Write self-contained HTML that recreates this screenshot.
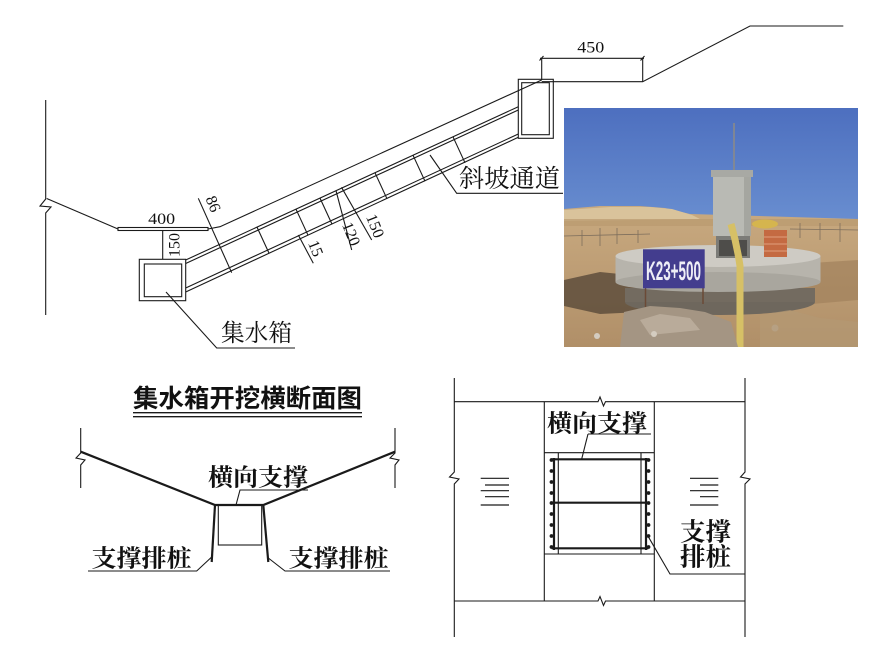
<!DOCTYPE html>
<html><head><meta charset="utf-8"><style>
html,body{margin:0;padding:0;background:#fff;}
svg{display:block;}
.n{font-family:"Liberation Serif","Noto Serif CJK SC",serif;font-size:16px;fill:#111;}
.c{font-family:"Liberation Serif","Noto Serif CJK SC",serif;fill:#111;}
.h{font-family:"Liberation Sans","Noto Sans CJK SC",sans-serif;fill:#111;}
</style></head><body>
<svg width="886" height="647" viewBox="0 0 886 647" xmlns="http://www.w3.org/2000/svg">
<defs>
<clipPath id="pc"><rect x="564" y="108" width="294" height="239"/></clipPath>
<linearGradient id="sky" x1="0" y1="0" x2="0" y2="1">
<stop offset="0" stop-color="#4d6fbf"/><stop offset="0.6" stop-color="#7096d4"/><stop offset="1" stop-color="#9dbbe6"/>
</linearGradient>
<linearGradient id="gr" x1="0" y1="0" x2="0" y2="1">
<stop offset="0" stop-color="#c9aa80"/><stop offset="1" stop-color="#b08f68"/>
</linearGradient>
</defs>

<g fill="none" stroke="#1a1a1a" stroke-width="1.1">
<polyline points="45.7,100 45.7,199 40,206 51,207 45.7,213 45.7,315"/>
<line x1="46.7" y1="198.5" x2="118" y2="229"/>
<rect x="118" y="227.5" width="90" height="3"/>
<polyline points="208,229 220,226.7 541.7,80"/>
<line x1="162.7" y1="231" x2="162.7" y2="259.3"/>
<rect x="139.3" y="259.3" width="46.4" height="41.4"/>
<rect x="144.3" y="264" width="37.4" height="32.7"/>
<line x1="185.7" y1="260" x2="518.3" y2="106.7"/>
<line x1="185.7" y1="263.5" x2="518.3" y2="110"/>
<line x1="185.7" y1="288" x2="518.3" y2="134"/>
<line x1="185.7" y1="292" x2="518.3" y2="137.3"/>
<line x1="257" y1="227.1" x2="269" y2="253.1"/>
<line x1="296" y1="209.2" x2="308" y2="235.2"/>
<line x1="320" y1="198.1" x2="332" y2="224.1"/>
<line x1="375" y1="172.8" x2="387" y2="198.8"/>
<line x1="413" y1="155.2" x2="425" y2="181.2"/>
<line x1="453" y1="136.8" x2="465" y2="162.8"/>
<line x1="198.3" y1="198.3" x2="231.7" y2="272.7"/>
<line x1="298.3" y1="235" x2="313.3" y2="263.3"/>
<line x1="336" y1="190.7" x2="351.7" y2="250"/>
<line x1="341.5" y1="187.3" x2="371.7" y2="240"/>
<rect x="518.3" y="79.3" width="35" height="59"/>
<rect x="521.7" y="82.7" width="27.6" height="52"/>
<line x1="541.7" y1="58.3" x2="541.7" y2="80"/>
<line x1="642.7" y1="58.3" x2="642.7" y2="81.7"/>
<line x1="540" y1="58.3" x2="644" y2="58.3"/>
<line x1="539.5" y1="60.5" x2="543.5" y2="56"/>
<line x1="640.5" y1="60.5" x2="644.5" y2="56"/>
<polyline points="541.7,81.7 642.7,81.7 750,26 843.3,26"/>
<polyline points="166,292 216.7,348 295,348"/>
<polyline points="430,155 456.7,193.3 563,193.3"/>
</g>

<text class="n" x="161.7" y="224" text-anchor="middle" textLength="27" lengthAdjust="spacingAndGlyphs">400</text>
<text class="n" x="590.8" y="52.5" text-anchor="middle" textLength="27" lengthAdjust="spacingAndGlyphs">450</text>
<text class="n" transform="translate(174.5,245) rotate(-90)" text-anchor="middle" dy="5">150</text>
<text class="n" transform="translate(213,204) rotate(68)" text-anchor="middle" dy="5">86</text>
<text class="n" transform="translate(315.5,248.5) rotate(68)" text-anchor="middle" dy="5">15</text>
<text class="n" transform="translate(351,234) rotate(68)" text-anchor="middle" dy="5">120</text>
<text class="n" transform="translate(375,226) rotate(68)" text-anchor="middle" dy="5">150</text>
<text class="c" x="221" y="341" font-size="24" textLength="71" lengthAdjust="spacingAndGlyphs">集水箱</text>
<text class="c" x="459" y="187" font-size="25" textLength="101" lengthAdjust="spacingAndGlyphs">斜坡通道</text>

<!-- photo -->
<g clip-path="url(#pc)">
<rect x="564" y="108" width="294" height="239" fill="url(#sky)"/>
<polygon points="564,209 600,206 640,206 665,208 690,214 858,219 858,347 564,347" fill="url(#gr)"/>
<polygon points="564,210 610,207 650,207 672,209 692,215 700,219 564,221" fill="#d9c39b"/>
<rect x="564" y="219" width="294" height="7" fill="#b99a6f" opacity="0.7"/>
<g stroke="#7d6e5c" stroke-width="0.8">
<line x1="582" y1="230" x2="582" y2="246"/><line x1="600" y1="228" x2="600" y2="246"/><line x1="617" y1="228" x2="617" y2="244"/><line x1="638" y1="230" x2="638" y2="243"/>
<line x1="800" y1="223" x2="800" y2="238"/><line x1="820" y1="223" x2="820" y2="240"/><line x1="840" y1="223" x2="840" y2="242"/>
<line x1="564" y1="236" x2="650" y2="234"/><line x1="790" y1="229" x2="858" y2="230"/>
</g>
<polygon points="564,280 600,272 640,276 660,300 640,312 600,314 564,306" fill="#5e4d3c" opacity="0.85"/>
<polygon points="780,265 858,260 858,300 800,305" fill="#9c7d58" opacity="0.6"/>
<ellipse cx="720" cy="302" rx="95" ry="13" fill="#6e675d"/>
<rect x="625" y="288" width="190" height="14" fill="#736b60"/>
<rect x="615.5" y="256" width="205" height="26" fill="#b7b4ac"/>
<ellipse cx="718" cy="282" rx="102.5" ry="10" fill="#a9a69e"/>
<ellipse cx="718" cy="256" rx="102.5" ry="11" fill="#cecbc4"/>
<line x1="734" y1="123" x2="734" y2="171" stroke="#8a8a8a" stroke-width="1.6"/>
<rect x="716" y="235" width="34" height="23" fill="#7c7c78"/>
<rect x="719" y="240" width="28" height="16" fill="#4e4d4a"/>
<rect x="713" y="176" width="38" height="60" fill="#b9bab4"/>
<rect x="744" y="176" width="7" height="60" fill="#a5a6a0"/>
<rect x="711" y="170" width="42" height="7" fill="#a8a9a4"/>
<ellipse cx="765" cy="224" rx="13" ry="4.5" fill="#d5b54e"/>
<rect x="764" y="230" width="23" height="27" fill="#c46a42"/>
<g stroke="#e8b090" stroke-width="0.7"><line x1="764" y1="237" x2="787" y2="237"/><line x1="764" y1="244" x2="787" y2="244"/><line x1="764" y1="251" x2="787" y2="251"/></g>
<line x1="645.5" y1="288" x2="645.5" y2="310" stroke="#6b4a36" stroke-width="1.5"/>
<line x1="703" y1="288" x2="703" y2="304" stroke="#6b4a36" stroke-width="1.5"/>
<rect x="643" y="249.3" width="61.7" height="39" fill="#433d8e"/>
<text x="673.5" y="280" text-anchor="middle" font-family="'Liberation Sans Narrow','Liberation Sans',sans-serif" font-weight="bold" font-size="27" fill="#eeeef6" textLength="55" lengthAdjust="spacingAndGlyphs">K23+500</text>
<path d="M731,224 Q737,245 740,266 L740,347" fill="none" stroke="#d6c066" stroke-width="7"/>
<polygon points="624,312 650,306 680,308 705,312 731,322 738,347 620,347" fill="#a49583"/>
<polygon points="640,320 660,314 690,318 700,330 650,335" fill="#c2b5a4" opacity="0.7"/>
<circle cx="597" cy="336" r="3" fill="#d4ccc0"/><circle cx="654" cy="334" r="3" fill="#d4ccc0"/><circle cx="775" cy="328" r="3.5" fill="#bbb3a8"/>
<polygon points="760,315 790,310 820,318 858,322 858,347 760,347" fill="#b39873" opacity="0.7"/>
</g>

<!-- cross section -->
<text class="h" x="133" y="407" font-size="25" font-weight="bold" textLength="229" lengthAdjust="spacingAndGlyphs">集水箱开挖横断面图</text>
<g fill="none" stroke="#1a1a1a">
<line x1="133" y1="412.7" x2="362" y2="412.7" stroke-width="1.3"/>
<line x1="133" y1="416.7" x2="362" y2="416.7" stroke-width="1.3"/>
<polyline points="80.7,428 80.7,453 76,458 85,460 80.7,465 80.7,488" stroke-width="1.1"/>
<polyline points="395,428 395,453 390,458 399,460 395,465 395,488" stroke-width="1.1"/>
<polyline points="80.7,451.7 215,505 263.3,505 395,451.7" stroke-width="2.2"/>
<rect x="218.3" y="505" width="43.4" height="40" stroke-width="1.1"/>
<line x1="215" y1="505" x2="211.7" y2="562" stroke-width="2.2"/>
<line x1="263.3" y1="505" x2="268.3" y2="562" stroke-width="2.2"/>
<polyline points="236,505 240,490 308,490" stroke-width="1.1"/>
<polyline points="88,571 196.7,571 211.7,557" stroke-width="1.1"/>
<polyline points="268.3,558 285,571 390,571" stroke-width="1.1"/>
</g>
<text class="c" x="208" y="485.5" font-size="24" font-weight="bold" textLength="100" lengthAdjust="spacingAndGlyphs">横向支撑</text>
<text class="c" x="91.5" y="566.5" font-size="24" font-weight="bold" textLength="100" lengthAdjust="spacingAndGlyphs">支撑排桩</text>
<text class="c" x="288.5" y="566.5" font-size="24" font-weight="bold" textLength="100" lengthAdjust="spacingAndGlyphs">支撑排桩</text>

<!-- plan view -->
<g fill="none" stroke="#1a1a1a" stroke-width="1.1">
<polyline points="454.3,378 454.3,472 449.5,477 459,479 454.3,484 454.3,637"/>
<polyline points="745,378 745,472 740.5,477 750,479 745,484 745,637"/>
<polyline points="454.3,401.7 598,401.7 600,397 603.5,406 605.5,401.7 745,401.7"/>
<polyline points="454.3,601 598,601 600,596.5 603.5,605.5 605.5,601 745,601"/>
<line x1="544.3" y1="401.7" x2="544.3" y2="601"/>
<line x1="654.3" y1="401.7" x2="654.3" y2="601"/>
<line x1="544.3" y1="452.7" x2="654.3" y2="452.7"/>
<line x1="544.3" y1="554" x2="654.3" y2="554"/>
<line x1="558.3" y1="452.7" x2="558.3" y2="554"/>
<line x1="641" y1="452.7" x2="641" y2="554"/>
<polyline points="588,434 651,434"/>
<polyline points="588,434 581.7,459"/>
<polyline points="648.3,536.7 670,574 745,574"/>
</g>
<g stroke="#1a1a1a" stroke-width="2.2" fill="none">
<line x1="551.7" y1="459.3" x2="648.3" y2="459.3"/>
<line x1="551.7" y1="502.7" x2="648.3" y2="502.7"/>
<line x1="551.7" y1="548.3" x2="648.3" y2="548.3"/>
<line x1="554" y1="458" x2="554" y2="550"/>
<line x1="646" y1="458" x2="646" y2="550"/>
</g>
<g fill="#1a1a1a">
<circle cx="551.5" cy="460" r="1.9"/><circle cx="551.5" cy="471" r="1.9"/><circle cx="551.5" cy="482" r="1.9"/><circle cx="551.5" cy="493" r="1.9"/><circle cx="551.5" cy="503" r="1.9"/><circle cx="551.5" cy="514" r="1.9"/><circle cx="551.5" cy="525" r="1.9"/><circle cx="551.5" cy="536" r="1.9"/><circle cx="551.5" cy="547" r="1.9"/>
<circle cx="648.5" cy="460" r="1.9"/><circle cx="648.5" cy="471" r="1.9"/><circle cx="648.5" cy="482" r="1.9"/><circle cx="648.5" cy="493" r="1.9"/><circle cx="648.5" cy="503" r="1.9"/><circle cx="648.5" cy="514" r="1.9"/><circle cx="648.5" cy="525" r="1.9"/><circle cx="648.5" cy="536" r="1.9"/><circle cx="648.5" cy="547" r="1.9"/>
</g>
<g stroke="#1a1a1a" stroke-width="1.2">
<line x1="480.7" y1="478.3" x2="509" y2="478.3"/><line x1="485" y1="485" x2="509" y2="485"/><line x1="480.7" y1="490.7" x2="509" y2="490.7"/><line x1="485" y1="496.7" x2="509" y2="496.7"/><line x1="480.7" y1="505" x2="509" y2="505"/>
<line x1="690" y1="478.3" x2="718.3" y2="478.3"/><line x1="700" y1="485" x2="718.3" y2="485"/><line x1="690" y1="490.7" x2="718.3" y2="490.7"/><line x1="700" y1="496.7" x2="718.3" y2="496.7"/><line x1="690" y1="505" x2="718.3" y2="505"/>
</g>
<text class="c" x="547" y="431.5" font-size="24" font-weight="bold" textLength="100" lengthAdjust="spacingAndGlyphs">横向支撑</text>
<text class="c" x="680" y="540.5" font-size="25" font-weight="bold" textLength="51" lengthAdjust="spacingAndGlyphs">支撑</text>
<text class="c" x="680" y="565.5" font-size="25" font-weight="bold" textLength="51" lengthAdjust="spacingAndGlyphs">排桩</text>
</svg>
</body></html>
